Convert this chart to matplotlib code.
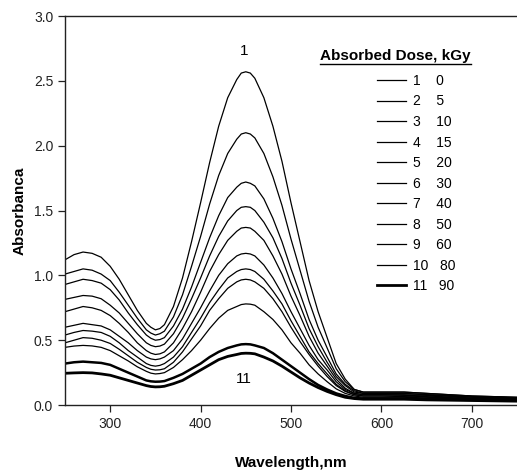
import matplotlib
matplotlib.use('Agg')
import matplotlib.pyplot as plt
from matplotlib.lines import Line2D

plt.rcParams['font.family'] = ['Liberation Sans', 'DejaVu Sans']

# wavelength grid, nm
wavelength = [250, 260, 270, 280, 290, 300, 310, 320, 330, 340,
              345, 350, 355,
              360, 370, 380, 390, 400, 410, 420, 430, 440,
              445, 450, 455,
              460, 470, 480, 490, 500, 510, 520, 530, 540, 550, 560, 570, 580,
              600, 625, 650, 700, 750]

# absorbance, one list per dose
a1 = [1.12, 1.16, 1.18, 1.17, 1.14, 1.07, 0.97, 0.85, 0.73, 0.63,
      0.60, 0.58, 0.59,
      0.62, 0.76, 0.98, 1.26, 1.56, 1.87, 2.15, 2.37, 2.51,
      2.56, 2.57, 2.56,
      2.52, 2.37, 2.15, 1.88, 1.56, 1.26, 0.96, 0.72, 0.52, 0.32, 0.20, 0.12, 0.10,
      0.10, 0.10, 0.09, 0.07, 0.06]
a2 = [1.01, 1.03, 1.05, 1.04, 1.01, 0.96, 0.87, 0.77, 0.67, 0.58,
      0.555, 0.54, 0.55,
      0.57, 0.68, 0.85, 1.07, 1.30, 1.55, 1.77, 1.94, 2.05,
      2.09, 2.10, 2.09,
      2.06, 1.94, 1.76, 1.54, 1.28, 1.04, 0.80, 0.60, 0.44, 0.28, 0.18, 0.12, 0.10,
      0.10, 0.10, 0.09, 0.07, 0.06]
a3 = [0.93, 0.95, 0.97, 0.96, 0.94, 0.89, 0.81, 0.71, 0.62, 0.54,
      0.515, 0.50, 0.505,
      0.52, 0.61, 0.74, 0.91, 1.10, 1.29, 1.46, 1.60, 1.68,
      1.71, 1.72, 1.71,
      1.69, 1.59, 1.44, 1.26, 1.05, 0.86, 0.66, 0.50, 0.37, 0.24, 0.16, 0.11, 0.09,
      0.09, 0.09, 0.08, 0.065, 0.055]
a4 = [0.815, 0.83, 0.845, 0.84, 0.82, 0.77, 0.71, 0.63, 0.55, 0.48,
      0.46, 0.45, 0.455,
      0.47, 0.55, 0.67, 0.82, 0.98, 1.15, 1.30, 1.42, 1.50,
      1.525, 1.53, 1.525,
      1.50, 1.41, 1.29, 1.13, 0.94, 0.77, 0.59, 0.45, 0.33, 0.22, 0.15, 0.10, 0.09,
      0.09, 0.09, 0.08, 0.065, 0.055]
a5 = [0.72, 0.74, 0.76, 0.75, 0.73, 0.69, 0.63, 0.56, 0.48, 0.42,
      0.40, 0.39, 0.395,
      0.41, 0.48, 0.59, 0.72, 0.87, 1.03, 1.16, 1.27, 1.34,
      1.365, 1.37, 1.365,
      1.34, 1.27, 1.15, 1.01, 0.84, 0.69, 0.53, 0.40, 0.30, 0.20, 0.13, 0.09, 0.08,
      0.08, 0.08, 0.075, 0.06, 0.05]
a6 = [0.60, 0.615, 0.63, 0.62, 0.61, 0.58, 0.53, 0.48, 0.42, 0.37,
      0.356, 0.35, 0.356,
      0.37, 0.42, 0.51, 0.63, 0.75, 0.88, 1.00, 1.09, 1.15,
      1.165, 1.17, 1.165,
      1.15, 1.08, 0.98, 0.86, 0.72, 0.59, 0.46, 0.35, 0.27, 0.18, 0.12, 0.09, 0.08,
      0.08, 0.075, 0.07, 0.055, 0.045]
a7 = [0.54, 0.56, 0.575, 0.57, 0.56, 0.53, 0.48, 0.42, 0.37, 0.32,
      0.306, 0.30, 0.306,
      0.32, 0.37, 0.45, 0.56, 0.67, 0.79, 0.89, 0.98, 1.03,
      1.045, 1.05, 1.045,
      1.03, 0.97, 0.88, 0.78, 0.65, 0.53, 0.41, 0.32, 0.24, 0.16, 0.11, 0.08, 0.07,
      0.07, 0.07, 0.065, 0.05, 0.045]
a8 = [0.48, 0.50, 0.52, 0.515, 0.50, 0.475, 0.43, 0.38, 0.33, 0.29,
      0.276, 0.27, 0.272,
      0.28, 0.33, 0.41, 0.51, 0.61, 0.73, 0.82, 0.90, 0.95,
      0.965, 0.97, 0.965,
      0.95, 0.90, 0.82, 0.72, 0.60, 0.49, 0.39, 0.30, 0.22, 0.15, 0.105, 0.08, 0.07,
      0.07, 0.065, 0.06, 0.05, 0.04]
a9 = [0.445, 0.455, 0.46, 0.456, 0.445, 0.42, 0.38, 0.34, 0.295, 0.26,
      0.246, 0.24, 0.243,
      0.25, 0.29, 0.35, 0.42, 0.50, 0.59, 0.67, 0.73, 0.76,
      0.775, 0.78, 0.778,
      0.77, 0.72, 0.66, 0.58, 0.48, 0.40, 0.31, 0.24, 0.18, 0.125, 0.09, 0.07, 0.06,
      0.06, 0.06, 0.055, 0.045, 0.04]
a10 = [0.32, 0.33, 0.335, 0.33, 0.325, 0.31, 0.28, 0.25, 0.22, 0.19,
       0.183, 0.18, 0.181,
       0.185, 0.21, 0.24, 0.28, 0.32, 0.37, 0.41, 0.44, 0.46,
       0.468, 0.47, 0.468,
       0.46, 0.44, 0.40, 0.35, 0.30, 0.25, 0.20, 0.155, 0.12, 0.09, 0.07, 0.055, 0.05,
       0.05, 0.05, 0.045, 0.04, 0.035]
a11 = [0.245, 0.248, 0.25, 0.248, 0.24, 0.23, 0.21, 0.19, 0.17, 0.15,
       0.143, 0.14, 0.141,
       0.145, 0.165, 0.19, 0.23, 0.27, 0.31, 0.35, 0.375, 0.39,
       0.398, 0.40, 0.399,
       0.395, 0.37, 0.34, 0.30, 0.255, 0.21, 0.17, 0.135, 0.105, 0.08, 0.06, 0.05, 0.045,
       0.045, 0.045, 0.04, 0.035, 0.03]

spectra = [a1, a2, a3, a4, a5, a6, a7, a8, a9, a10, a11]
curve_no = ['1', '2', '3', '4', '5', '6', '7', '8', '9', '10', '11']
dose = ['0', '5', '10', '15', '20', '30', '40', '50', '60', '80', '90']
widths = [0.9] * 9 + [1.8, 2.0]

fig = plt.figure(figsize=(5.17, 4.71), dpi=100)
ax = fig.add_axes([0.1257, 0.140, 0.8743, 0.826])

for i, a in enumerate(spectra):
    gap = '    ' if len(curve_no[i]) == 1 else '   '
    ax.plot(wavelength, a, color='black', lw=widths[i], solid_joinstyle='round',
            label=curve_no[i] + gap + dose[i])

ax.set_xlim(250, 750)
ax.set_ylim(0, 3.0)
ax.set_xticks([300, 400, 500, 600, 700])
ax.set_yticks([0.0, 0.5, 1.0, 1.5, 2.0, 2.5, 3.0])
ax.set_yticklabels(['0.0', '0.5', '1.0', '1.5', '2.0', '2.5', '3.0'])
ax.tick_params(direction='out', length=5, width=0.9, labelsize=10, colors='#222222')
ax.spines['right'].set_visible(False)
for s in ['left', 'bottom', 'top']:
    ax.spines[s].set_linewidth(1.0)
    ax.spines[s].set_color('#222222')

ax.set_xlabel('Wavelength,nm', fontsize=11, fontweight='bold', labelpad=18)
ax.set_ylabel('Absorbanca', fontsize=11, fontweight='bold', labelpad=5)

ax.text(448, 2.73, '1', fontsize=11, ha='center', va='center')
ax.text(448, 0.20, '11', fontsize=11, ha='center', va='center')

leg = ax.legend(loc='upper left', bbox_to_anchor=(0.729, 0.843), bbox_transform=fig.transFigure,
                frameon=False, fontsize=10, handlelength=2.1, handletextpad=0.5,
                labelspacing=0.47, borderpad=0, borderaxespad=0)
# in the key only the last dose has the heavy line
for ln in leg.get_lines()[:10]:
    ln.set_linewidth(0.9)

title = fig.text(0.7655, 0.881, 'Absorbed Dose, kGy', fontsize=11, fontweight='bold',
                 ha='center', va='center')

# underline the legend title
fig.canvas.draw()
bb = title.get_window_extent()
fig.add_artist(Line2D([bb.x0 / fig.bbox.width, bb.x1 / fig.bbox.width],
                      [(bb.y0 - 1) / fig.bbox.height] * 2,
                      transform=fig.transFigure, color='black', lw=1.0))

fig.savefig('out.png', dpi=100)
